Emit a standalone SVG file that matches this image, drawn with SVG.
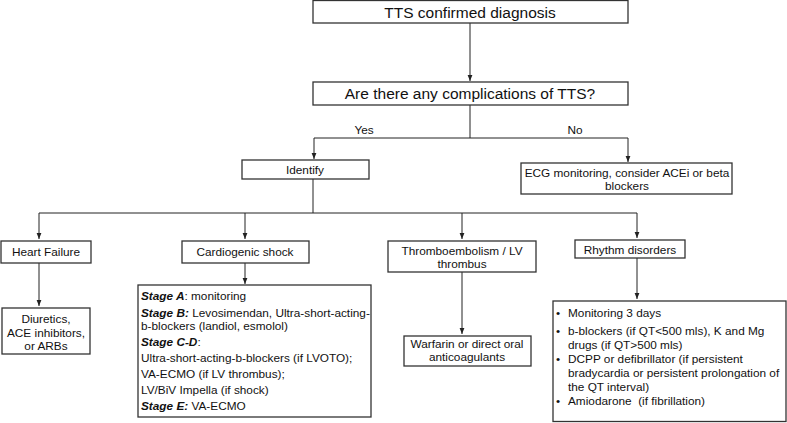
<svg xmlns="http://www.w3.org/2000/svg" width="787" height="423" viewBox="0 0 787 423">
<style>
.box{fill:#fff;stroke:#333;stroke-width:1.3}
.ln{fill:none;stroke:#222;stroke-width:1}
text{font-family:"Liberation Sans",Arial,Helvetica,sans-serif;fill:#111}
.big{font-size:15.5px}
.t{font-size:11.8px}
.c{text-anchor:middle}
.bi{font-weight:bold;font-style:italic}
</style>
<defs>
<marker id="ah" viewBox="0 0 6 6" refX="6" refY="3" markerWidth="6" markerHeight="6" orient="auto" markerUnits="userSpaceOnUse">
<path d="M0,0.6 L6,3 L0,5.4 Z" fill="#222"/>
</marker>
</defs>
<g id="connectors">
<line class="ln" x1="470" y1="23" x2="470" y2="81" marker-end="url(#ah)"/>
<polyline class="ln" points="470,105 470,138"/>
<polyline class="ln" points="314,138 628,138"/>
<line class="ln" x1="314" y1="138" x2="314" y2="159" marker-end="url(#ah)"/>
<line class="ln" x1="628" y1="138" x2="628" y2="162" marker-end="url(#ah)"/>
<polyline class="ln" points="313,179 313,213"/>
<polyline class="ln" points="39,213 637,213"/>
<line class="ln" x1="39" y1="213" x2="39" y2="239" marker-end="url(#ah)"/>
<line class="ln" x1="245" y1="213" x2="245" y2="239" marker-end="url(#ah)"/>
<line class="ln" x1="462" y1="213" x2="462" y2="239" marker-end="url(#ah)"/>
<line class="ln" x1="637" y1="213" x2="637" y2="238" marker-end="url(#ah)"/>
<line class="ln" x1="39" y1="263" x2="39" y2="306" marker-end="url(#ah)"/>
<line class="ln" x1="245" y1="263" x2="245" y2="284" marker-end="url(#ah)"/>
<line class="ln" x1="462" y1="272" x2="462" y2="334" marker-end="url(#ah)"/>
<line class="ln" x1="637" y1="258" x2="637" y2="299" marker-end="url(#ah)"/>
<text class="t c" x="364" y="134">Yes</text>
<text class="t c" x="575" y="134">No</text>
</g>
<g id="n-tts">
<rect class="box" x="313" y="0.5" width="315" height="22.5"/>
<text class="big c" x="470" y="17.5">TTS confirmed diagnosis</text>
</g>
<g id="n-complications">
<rect class="box" x="313" y="82" width="315" height="23"/>
<text class="big c" x="470" y="99">Are there any complications of TTS?</text>
</g>
<g id="n-identify">
<rect class="box" x="242" y="160" width="127" height="19"/>
<text class="t c" x="305" y="174">Identify</text>
</g>
<g id="n-ecg">
<rect class="box" x="521" y="163" width="211" height="31"/>
<text class="t c" x="627" y="177">ECG monitoring, consider ACEi or beta</text>
<text class="t c" x="627" y="190">blockers</text>
</g>
<g id="n-hf">
<rect class="box" x="1" y="241" width="90" height="22"/>
<text class="t c" x="46" y="256">Heart Failure</text>
</g>
<g id="n-diuretics">
<rect class="box" x="2" y="308" width="88" height="46"/>
<text class="t c" x="46" y="323">Diuretics,</text>
<text class="t c" x="46" y="336.5">ACE inhibitors,</text>
<text class="t c" x="46" y="350">or ARBs</text>
</g>
<g id="n-shock">
<rect class="box" x="182" y="241" width="127" height="22"/>
<text class="t c" x="245" y="256">Cardiogenic shock</text>
</g>
<g id="n-stages">
<rect class="box" x="138" y="285" width="233" height="132"/>
<text class="t" x="141" y="300"><tspan class="bi">Stage A</tspan>: monitoring</text>
<text class="t" x="141" y="317"><tspan class="bi">Stage B:</tspan> Levosimendan, Ultra-short-acting-</text>
<text class="t" x="141" y="330">b-blockers (landiol, esmolol)</text>
<text class="t" x="141" y="346"><tspan class="bi">Stage C-D</tspan>:</text>
<text class="t" x="141" y="362">Ultra-short-acting-b-blockers (if LVOTO);</text>
<text class="t" x="141" y="378">VA-ECMO (if LV thrombus);</text>
<text class="t" x="141" y="394">LV/BiV Impella (if shock)</text>
<text class="t" x="141" y="410"><tspan class="bi">Stage E:</tspan> VA-ECMO</text>
</g>
<g id="n-thrombo">
<rect class="box" x="388" y="241" width="148" height="31"/>
<text class="t c" x="462" y="255">Thromboembolism / LV</text>
<text class="t c" x="462" y="268">thrombus</text>
</g>
<g id="n-warfarin">
<rect class="box" x="404" y="336" width="127" height="30"/>
<text class="t c" x="467" y="348">Warfarin or direct oral</text>
<text class="t c" x="467" y="361">anticoagulants</text>
</g>
<g id="n-rhythm">
<rect class="box" x="575" y="240" width="110" height="18"/>
<text class="t c" x="630" y="254">Rhythm disorders</text>
</g>
<g id="n-rhythm-tx">
<rect class="box" x="553" y="301" width="233" height="120.5"/>
<text class="t" x="556" y="317">•</text><text class="t" x="568" y="317">Monitoring 3 days</text>
<text class="t" x="556" y="335">•</text><text class="t" x="568" y="335">b-blockers (if QT&lt;500 mls), K and Mg</text>
<text class="t" x="568" y="349">drugs (if QT&gt;500 mls)</text>
<text class="t" x="556" y="363">•</text><text class="t" x="568" y="363">DCPP or defibrillator (if persistent</text>
<text class="t" x="568" y="377">bradycardia or persistent prolongation of</text>
<text class="t" x="568" y="391">the QT interval)</text>
<text class="t" x="556" y="405">•</text><text class="t" x="568" y="405">Amiodarone&#160; (if fibrillation)</text>
</g>
</svg>
